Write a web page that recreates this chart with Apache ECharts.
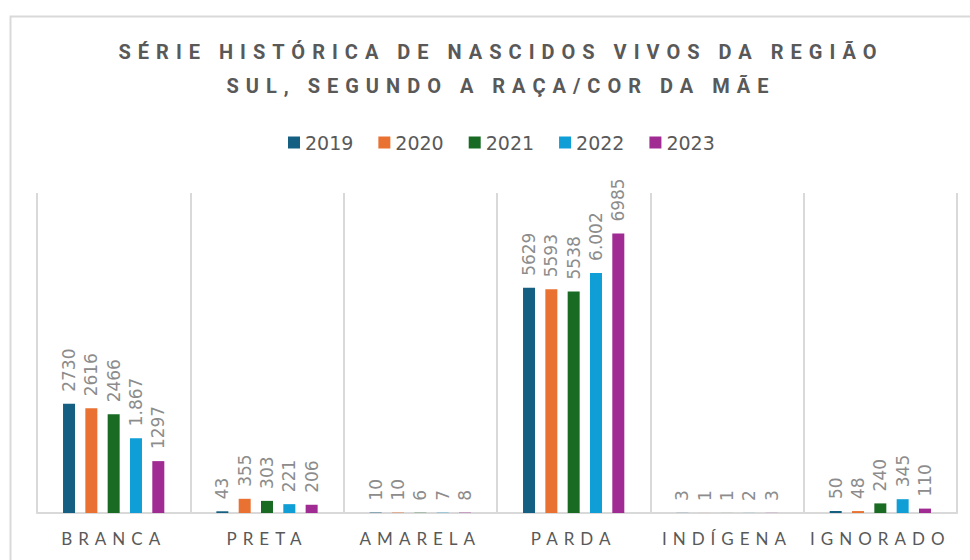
<!DOCTYPE html>
<html>
<head>
<meta charset="UTF-8">
<script src="https://cdn.jsdelivr.net/npm/echarts@6/dist/echarts.min.js"></script>
<title>Nascidos vivos - Região Sul</title>
<style>
  body { margin: 0; background: #fff; }
  #main { width: 970px; height: 560px; }
  /* espaçamento entre letras do título e dos rótulos do eixo */
  #main text[style*="Roboto"] { letter-spacing: 7px; }
  #main text[style*="Lato"] { letter-spacing: 6px; }
</style>
</head>
<body>
<div id="main"></div>
<script type="text/javascript">
  var categorias = ['BRANCA', 'PRETA', 'AMARELA', 'PARDA', 'INDÍGENA', 'IGNORADO'];
  var anos = ['2019', '2020', '2021', '2022', '2023'];

  var v2019 = [2730, 43, 10, 5629, 3, 50];
  var v2020 = [2616, 355, 10, 5593, 1, 48];
  var v2021 = [2466, 303, 6, 5538, 1, 240];
  var v2022 = [1867, 221, 7, 6002, 2, 345];
  var v2023 = [1297, 206, 8, 6985, 3, 110];

  // rótulos como aparecem no gráfico original
  var rot2022 = ['1.867', '221', '7', '6.002', '2', '345'];

  var cores = ['#156082', '#E97132', '#196B24', '#0F9ED5', '#A02B93'];

  var valores = [v2019, v2020, v2021, v2022, v2023];

  var series = [];
  for (var i = 0; i < anos.length; i++) {
    (function (idx) {
      series.push({
        name: anos[idx],
        type: 'bar',
        barWidth: 12,
        barGap: '86%',
        itemStyle: { color: cores[idx] },
        label: {
          show: true,
          position: 'top',
          rotate: 90,
          align: 'left',
          verticalAlign: 'middle',
          distance: 12,
          color: '#8c8c8c',
          fontSize: 17,
          fontFamily: 'DejaVu Sans',
          formatter: function (p) {
            if (idx === 3) return rot2022[p.dataIndex];
            return String(p.value);
          }
        },
        data: valores[idx]
      });
    })(i);
  }

  var myChart = echarts.init(document.getElementById('main'), null, { renderer: 'svg' });
  myChart.setOption({
    animation: false,
    backgroundColor: '#fff',
    graphic: [{
      type: 'rect',
      left: 8, top: 14,
      shape: { width: 1000, height: 600 },
      style: { fill: 'none', stroke: '#d9d9d9', lineWidth: 2 },
      silent: true
    }],
    title: {
      text: 'SÉRIE HISTÓRICA DE NASCIDOS VIVOS DA REGIÃO\nSUL, SEGUNDO A RAÇA/COR DA MÃE',
      left: 496,
      top: 30,
      textAlign: 'center',
      textStyle: {
        fontFamily: 'Roboto',
        fontWeight: 'bold',
        fontSize: 20,
        lineHeight: 34,
        color: '#595959'
      }
    },
    legend: {
      data: anos,
      top: 128,
      left: 283,
      icon: 'rect',
      itemWidth: 12,
      itemHeight: 12,
      itemGap: 25,
      textStyle: { fontFamily: 'DejaVu Sans', fontSize: 19, color: '#595959' }
    },
    grid: { left: 37, right: 13, top: 193, bottom: 47 },
    xAxis: {
      type: 'category',
      data: categorias,
      axisTick: { show: false },
      axisLine: { lineStyle: { color: '#d9d9d9', width: 2 } },
      splitLine: { show: true, lineStyle: { color: '#d9d9d9', width: 2 } },
      axisLabel: { fontFamily: 'Lato', fontSize: 17, color: '#595959', margin: 17 }
    },
    yAxis: {
      type: 'value',
      min: 0,
      max: 8000,
      show: false
    },
    series: series
  });
</script>
</body>
</html>
